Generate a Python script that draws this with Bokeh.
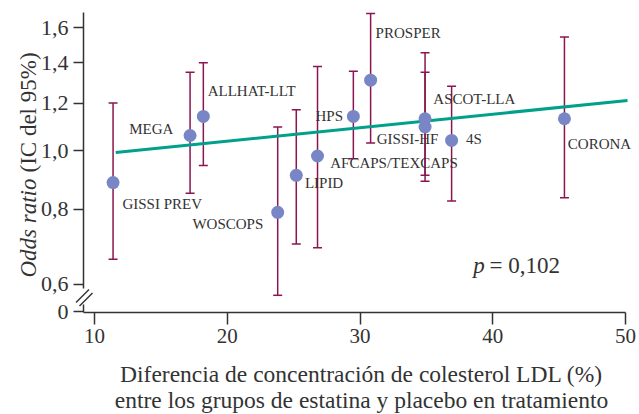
import math
from bokeh.plotting import figure
from bokeh.models import (Range1d, FixedTicker, CustomJSTickFormatter, ColumnDataSource,
                          LabelSet, Label, Arrow, LinearAxis, LogAxis)
from bokeh.embed import file_html
from bokeh.resources import INLINE

# ---------------- data ----------------
studies = ["GISSI PREV", "MEGA", "ALLHAT-LLT", "WOSCOPS", "LIPID", "AFCAPS/TEXCAPS",
           "HPS", "PROSPER", "ASCOT-LLA", "GISSI-HF", "4S", "CORONA"]
ldl_diff = [11.4, 17.2, 18.2, 23.8, 25.2, 26.8, 29.5, 30.8, 34.9, 34.9, 36.9, 45.4]
odds_ratio = [0.885, 1.06, 1.14, 0.79, 0.91, 0.98, 1.14, 1.31, 1.13, 1.095, 1.04, 1.13]
ci_low = [0.66, 0.85, 0.945, 0.575, 0.70, 0.69, 0.97, 1.03, 0.89, 0.91, 0.825, 0.835]
ci_high = [1.20, 1.35, 1.40, 1.095, 1.17, 1.38, 1.355, 1.69, 1.455, 1.35, 1.28, 1.545]
fit_x = [11.6, 50.15]
fit_or = [0.993, 1.212]
x_ticks = [10, 20, 30, 40, 50]
y_ticks = [0.6, 0.8, 1.0, 1.2, 1.4, 1.6]
p_text = "= 0,102"
y_title = ["Odds ratio", "(IC del 95%)"]
x_title = ["Diferencia de concentración de colesterol LDL (%)",
           "entre los grupos de estatina y placebo en tratamiento"]

# label placement (screen px relative to point centre, +y = up) and alignment
lab_dx = [9.4, -16.7, 4.3, -14.4, 8.6, 12.7, -10.3, 5, 8.3, -48.3, 14.3, 3.4]
lab_dy = [-26, 1, 20.7, -16.6, -12.3, -12.3, -4.7, 42, 14.3, -16.6, -4, -30.3]
lab_align = ["left", "right", "left", "right", "left", "left", "right", "left",
             "left", "left", "left", "left"]

# ---------------- geometry helpers (canvas px -> data, for annotations) ----------------
W, H = 639, 414
XS, X0, PX0 = 13.276, 30.0, 359.5
YS, PY1 = 261.3, 150.2


def xd(px):
    return X0 + (px - PX0) / XS


def yd(py):
    return math.exp((PY1 - py) / YS)


FONT = "Liberation Serif"
TXT = "#333333"
BAR = "#8a1651"
DOT = "#7886c6"
FIT = "#00a08a"

y_bottom = yd(311.7)
x_left = xd(83)

p = figure(width=W, height=H, min_border=0,
           x_range=Range1d(xd(0), xd(W)), y_range=Range1d(yd(H), yd(0)),
           y_axis_type="log", x_axis_location=None, y_axis_location=None,
           output_backend="svg", toolbar_location=None)
p.outline_line_color = None
p.xgrid.visible = False
p.ygrid.visible = False
p.background_fill_color = "white"
p.border_fill_color = "white"

xaxis = LinearAxis(fixed_location=y_bottom, bounds=(x_left, 50),
                   ticker=FixedTicker(ticks=x_ticks))
yaxis = LogAxis(fixed_location=x_left, bounds=(y_bottom, yd(12)),
                ticker=FixedTicker(ticks=[y_bottom * 1.002] + y_ticks),
                formatter=CustomJSTickFormatter(
                    code="return tick < 0.58 ? '0' : tick.toFixed(1).replace('.', ',');"))
for ax in (xaxis, yaxis):
    ax.major_label_text_font = FONT
    ax.major_label_text_color = TXT
    ax.axis_line_color = TXT
    ax.axis_line_width = 1.5
    ax.major_tick_line_color = TXT
    ax.major_tick_line_width = 1.5
    ax.major_tick_in = 0
    ax.minor_tick_line_color = None
xaxis.major_label_text_font_size = "21px"
yaxis.major_label_text_font_size = "22px"
xaxis.major_tick_out = 12
xaxis.major_label_standoff = 5
yaxis.major_tick_out = 10
yaxis.major_label_standoff = 5
yaxis.axis_line_color = None
p.add_layout(xaxis, "below")
p.add_layout(yaxis, "left")

# y axis line with break
for (ya, yb) in [(12, 288), (304, 311.7)]:
    p.add_layout(Arrow(x_start=x_left, y_start=yd(ya), x_end=x_left, y_end=yd(yb),
                       start=None, end=None, line_color=TXT, line_width=1.5))
for (xa, ya, xb, yb) in [(75.5, 302, 88.5, 289), (79, 305.5, 92, 292.5)]:
    p.add_layout(Arrow(x_start=xd(xa), y_start=yd(ya), x_end=xd(xb), y_end=yd(yb),
                       start=None, end=None, line_color=TXT, line_width=1.5))

# error bars
src = ColumnDataSource(dict(x=ldl_diff, y=odds_ratio, lo=ci_low, hi=ci_high, name=studies,
                            dx=lab_dx, dy=lab_dy, align=lab_align))
p.segment(x0="x", y0="lo", x1="x", y1="hi", source=src, line_color=BAR, line_width=1.5)
p.scatter(x="x", y="lo", source=src, marker="dash", size=9, line_color=BAR, line_width=1.5)
p.scatter(x="x", y="hi", source=src, marker="dash", size=9, line_color=BAR, line_width=1.5)

# regression line
p.line(fit_x, fit_or, line_color=FIT, line_width=3)

# points
p.scatter(x="x", y="y", source=src, marker="circle", size=13, fill_color=DOT, line_color=None)

# study labels
p.add_layout(LabelSet(x="x", y="y", text="name", source=src, x_offset="dx", y_offset="dy",
                      text_align="align", text_baseline="alphabetic", text_font=FONT,
                      text_font_size="15px", text_color=TXT))

# p value
p.add_layout(Label(x=xd(472.7), y=yd(265), text="p", text_font=FONT, text_font_size="23px",
                   text_font_style="italic", text_color=TXT, text_baseline="alphabetic"))
p.add_layout(Label(x=xd(489), y=yd(265), text=p_text, text_font=FONT, text_font_size="23px",
                   text_color=TXT, text_baseline="alphabetic"))

# y axis title (mixed italic)
p.add_layout(Label(x=xd(27.5), y=yd(178), text=y_title[0], angle=math.pi / 2,
                   text_align="right", text_baseline="alphabetic", text_font=FONT,
                   text_font_size="23px", text_font_style="italic", text_color=TXT))
p.add_layout(Label(x=xd(27.5), y=yd(172), text=y_title[1], angle=math.pi / 2,
                   text_align="left", text_baseline="alphabetic", text_font=FONT,
                   text_font_size="23px", text_color=TXT))

# x axis title
for txt, base in zip(x_title, [373, 399]):
    p.add_layout(Label(x=xd(361), y=yd(base), text=txt, text_align="center",
                       text_baseline="alphabetic", text_font=FONT, text_font_size="23.5px",
                       text_color=TXT))

open("out.html", "w").write(file_html(p, INLINE))
